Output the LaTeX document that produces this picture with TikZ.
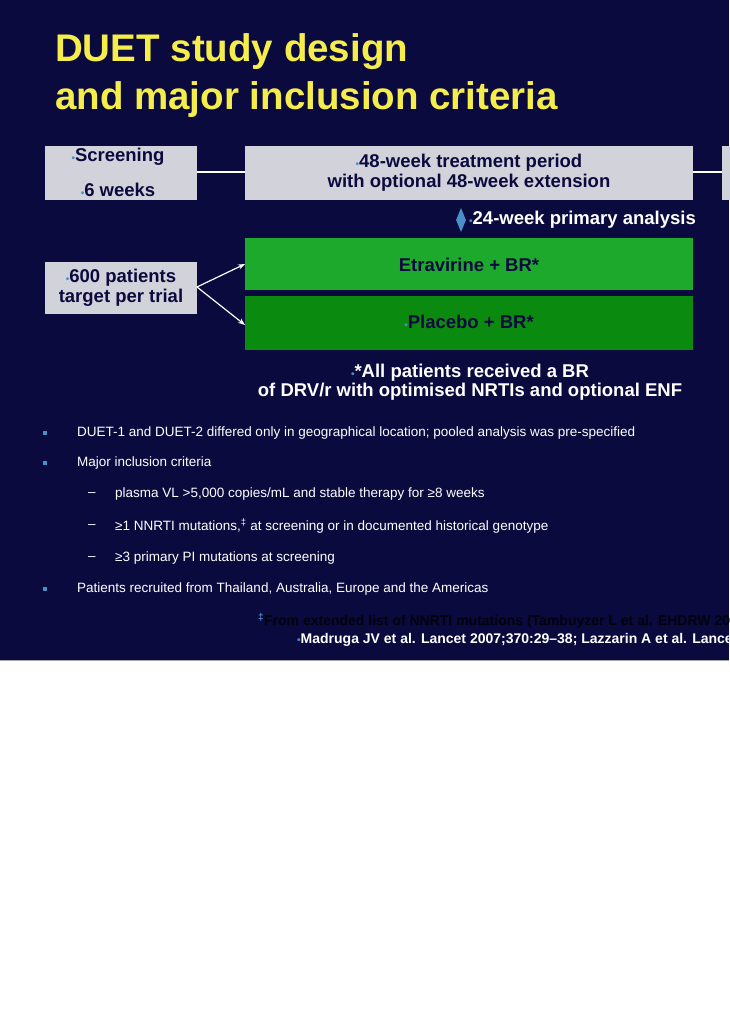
\documentclass[tikz,border=0pt]{standalone}
\usepackage{fontspec}
\setmainfont{Liberation Sans}
\usetikzlibrary{shapes.geometric,arrows.meta}
\definecolor{navy}{HTML}{0B0A3E}
\definecolor{boxgrey}{HTML}{D2D2DA}
\definecolor{titley}{HTML}{F5EE4A}
\definecolor{gA}{HTML}{1DAA2C}
\definecolor{gB}{HTML}{0B8A10}
\definecolor{bul}{HTML}{4A90C8}
\definecolor{dtxt}{HTML}{0B0A3E}
\newcommand{\bl}{{\color{bul}\fontsize{10}{10}\selectfont\textbullet}}
\tikzset{
  bt/.style={font=\fontsize{18.5}{21}\selectfont\bfseries, text=dtxt, align=center},
  body/.style={font=\fontsize{13.5}{15}\selectfont, text=white, anchor=west, inner sep=0pt},
  sq/.style={fill=bul, minimum size=4pt, inner sep=0pt}
}
\begin{document}
\begin{tikzpicture}[x=1pt,y=-1pt]
\useasboundingbox (0,0) rectangle (729,1030);
\fill[white] (0,0) rectangle (729,1030);
\fill[navy] (0,0) rectangle (729,660);
\draw[gray!70] (0,660) -- (729,660);
% title
\node[anchor=west, text=titley, font=\fontsize{38.5}{42}\selectfont\bfseries, inner sep=0pt] (t1) at (55,52) {DUET study design};
\node[anchor=west, text=titley, font=\fontsize{38.5}{42}\selectfont\bfseries, inner sep=0pt] (t2) at (55,100) {and major inclusion criteria};
% top row
\fill[boxgrey] (45,146) rectangle (197,200);
\fill[boxgrey] (245,146) rectangle (693,200);
\fill[boxgrey] (722,146) rectangle (760,200);
\coordinate (s1) at (197,172); \coordinate (s2) at (245,172);
\coordinate (s3) at (693,172); \coordinate (s4) at (722,172);
\draw[white, line width=2pt] (s1) -- (s2);
\draw[white, line width=2pt] (s3) -- (s4);
\node[bt] (scr) at (118,157) {\bl Screening};
\node[bt] (wk6) at (118,190) {\bl 6 weeks};
\node[bt] (trt) at (469,173) {\bl 48-week treatment period\\[-1pt]with optional 48-week extension};
% diamond
\node[diamond, fill=bul, minimum width=10pt, minimum height=24pt, inner sep=0pt, aspect=0.4] (dia) at (461,220) {};
\node[anchor=west, text=white, font=\fontsize{18.5}{21}\selectfont\bfseries, inner sep=0pt] (pa) at (469,220) {\bl 24-week primary analysis};
% arms
\node[fill=gA, minimum width=448pt, minimum height=52pt, inner sep=0pt, anchor=north west] (eA) at (245,238) {};
\node[fill=gB, minimum width=448pt, minimum height=54pt, inner sep=0pt, anchor=north west] (eB) at (245,296) {};
\node[bt] at (469,265) {Etravirine + BR*};
\node[bt] at (469,322) {\bl Placebo + BR*};
% patients box
\node[fill=boxgrey, minimum width=152pt, minimum height=52pt, inner sep=0pt, anchor=north west] (pat) at (45,262) {};
\node[bt] at (121,288) {\bl 600 patients\\[-1pt]target per trial};
\coordinate (a0) at (197,287);
\draw[white, line width=1.2pt, -{Stealth[length=7pt]}] (a0) -- (eA.west|-0,264);
\draw[white, line width=1.2pt, -{Stealth[length=7pt]}] (a0) -- (eB.west|-0,325);
% footnote
\node[text=white, font=\fontsize{18.5}{21}\selectfont\bfseries, align=center] (fn) at (470,382) {\bl *All patients received a BR\\[-2pt]of DRV/r with optimised NRTIs and optional ENF};
% bullets
\node[sq] (b1) at (45,433) {};
\node[body] (l1) at (77,433) {DUET-1 and DUET-2 differed only in geographical location; pooled analysis was pre-specified};
\node[sq] (b2) at (45,463) {};
\node[body] (l2) at (77,463) {Major inclusion criteria};
\node[body] (d1) at (88,495) {–}; \node[body] (m1) at (115,494) {plasma VL >5,000 copies/mL and stable therapy for ≥8 weeks};
\node[body] (d2) at (88,527) {–}; \node[body] (m2) at (115,526) {≥1 NNRTI mutations,\textsuperscript{‡} at screening or in documented historical genotype};
\node[body] (d3) at (88,559) {–}; \node[body] (m3) at (115,558) {≥3 primary PI mutations at screening};
\node[sq] (b3) at (45,589) {};
\node[body] (l3) at (77,589) {Patients recruited from Thailand, Australia, Europe and the Americas};
\node[anchor=west, inner sep=0pt, font=\fontsize{14}{16}\selectfont\bfseries, text=black!80!navy] (r1) at (258,621) {\textsuperscript{\color{bul}‡}From extended list of NNRTI mutations (Tambuyzer L et al. EHDRW 2007)};
\node[anchor=west, inner sep=0pt, font=\fontsize{14}{16}\selectfont\bfseries, text=white] (r2) at (297,640) {\bl Madruga JV et al. Lancet 2007;370:29–38; Lazzarin A et al. Lancet 2007};
\end{tikzpicture}
\end{document}
